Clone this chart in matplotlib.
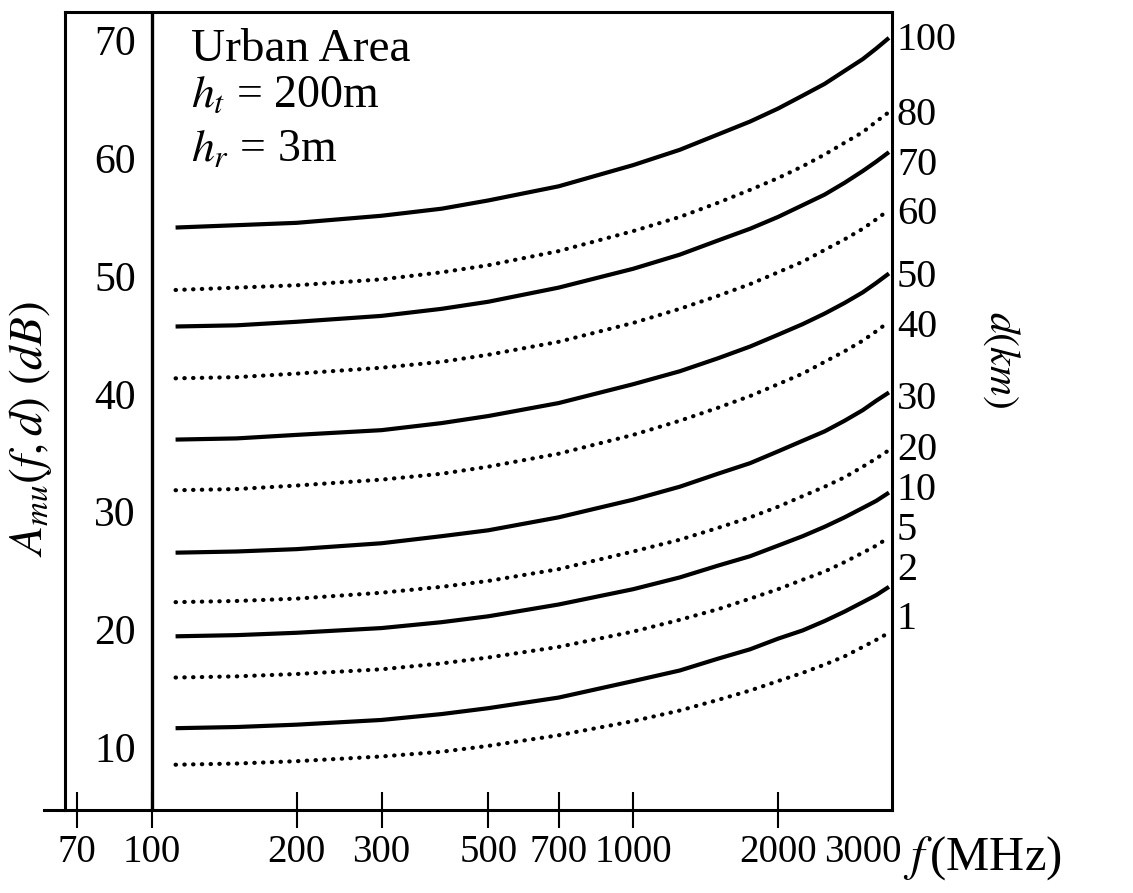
import matplotlib
matplotlib.use("Agg")
import matplotlib.pyplot as plt

plt.rcParams['font.family'] = ['Liberation Serif', 'DejaVu Serif']
plt.rcParams['mathtext.fontset'] = 'stix'

# frequency points (MHz)
freq = [112, 150, 200, 300, 400, 500, 700, 1000, 1250, 1500, 1750, 2000,
        2250, 2500, 2750, 3000, 3200, 3400]

# median attenuation A_mu(f,d) in dB, one list per distance d (km)
dist = [100, 80, 70, 60, 50, 40, 30, 20, 10, 5, 2, 1]
a_100 = [54.5, 54.7, 54.9, 55.5, 56.1, 56.8, 58.0, 59.8, 61.1, 62.4, 63.5, 64.6, 65.7, 66.7, 67.8, 68.8, 69.7, 70.6]
a_80 = [49.2, 49.4, 49.6, 50.1, 50.7, 51.3, 52.5, 54.2, 55.4, 56.6, 57.7, 58.7, 59.7, 60.7, 61.7, 62.6, 63.5, 64.3]
a_70 = [46.1, 46.2, 46.5, 47.0, 47.6, 48.2, 49.4, 51.0, 52.2, 53.4, 54.4, 55.4, 56.4, 57.3, 58.3, 59.3, 60.1, 60.9]
a_60 = [41.7, 41.8, 42.1, 42.6, 43.1, 43.7, 44.8, 46.4, 47.6, 48.7, 49.7, 50.7, 51.6, 52.6, 53.5, 54.4, 55.2, 56.0]
a_50 = [36.5, 36.6, 36.9, 37.3, 37.9, 38.5, 39.6, 41.2, 42.3, 43.4, 44.4, 45.4, 46.3, 47.2, 48.1, 49.0, 49.8, 50.6]
a_40 = [32.2, 32.3, 32.6, 33.1, 33.6, 34.2, 35.3, 36.9, 38.1, 39.2, 40.2, 41.2, 42.1, 43.1, 44.0, 44.9, 45.7, 46.5]
a_30 = [26.9, 27.0, 27.2, 27.7, 28.3, 28.8, 29.9, 31.4, 32.5, 33.6, 34.5, 35.5, 36.4, 37.2, 38.1, 39.0, 39.8, 40.5]
a_20 = [22.7, 22.8, 23.0, 23.5, 24.0, 24.5, 25.5, 27.0, 28.0, 29.0, 29.9, 30.8, 31.7, 32.5, 33.3, 34.2, 34.9, 35.6]
a_10 = [19.8, 19.9, 20.1, 20.5, 21.0, 21.5, 22.5, 23.8, 24.8, 25.8, 26.6, 27.5, 28.3, 29.1, 29.9, 30.7, 31.3, 32.0]
a_5 = [16.3, 16.4, 16.6, 17.0, 17.5, 18.0, 18.9, 20.2, 21.2, 22.1, 23.0, 23.8, 24.6, 25.3, 26.1, 26.9, 27.5, 28.2]
a_2 = [12.0, 12.1, 12.3, 12.7, 13.2, 13.7, 14.6, 16.0, 16.9, 17.9, 18.7, 19.6, 20.3, 21.1, 21.9, 22.7, 23.3, 24.0]
a_1 = [8.9, 9.0, 9.2, 9.6, 10.0, 10.5, 11.4, 12.6, 13.5, 14.4, 15.2, 16.0, 16.7, 17.4, 18.1, 18.9, 19.5, 20.1]
curves = [a_100, a_80, a_70, a_60, a_50, a_40, a_30, a_20, a_10, a_5, a_2, a_1]

x_ticks = [70, 100, 200, 300, 500, 700, 1000, 2000, 3000]
y_ticks = [10, 20, 30, 40, 50, 60, 70]

fig = plt.figure(figsize=(11.33, 8.93), dpi=100)
ax = fig.add_axes([0.0574, 0.093, 0.7299, 0.8936])

# solid and dotted curves alternate, starting with d = 100 km
for i, (d, vals) in enumerate(zip(dist, curves)):
    if i % 2 == 0:
        ax.plot(freq, vals, color='black', lw=3.0, solid_capstyle='butt')
    else:
        ax.plot(freq, vals, color='black', lw=3.0, linestyle=(0, (0.1, 2.0)),
                dash_capstyle='round')

ax.set_xscale('log')
ax.set_xlim(66, 3450)
ax.set_ylim(5.06, 72.8)

# vertical line at 100 MHz
ax.axvline(100, color='black', lw=2.4)

for sp in ax.spines.values():
    sp.set_linewidth(2.2)
# bottom axis runs a bit past the left frame
ax.plot([-0.025, 0], [0, 0], transform=ax.transAxes, color='black',
        lw=2.2, clip_on=False)

ax.set_xticks(x_ticks)
ax.set_xticklabels([str(t) for t in x_ticks])
ax.xaxis.set_minor_locator(matplotlib.ticker.NullLocator())
ax.tick_params(axis='x', direction='inout', length=26, width=1.5,
               labelsize=28, pad=4)
ax.xaxis.get_major_ticks()[-1].tick1line.set_visible(False)
ax.set_yticks([])

# y values written inside the left strip
for v in y_ticks:
    ax.text(0.0605, v, str(v), transform=ax.get_yaxis_transform(),
            ha='center', va='center', fontsize=30)

# distance labels at the right ends of the curves
nudge = {100: -0.2, 80: -0.3, 70: -1.1, 60: -0.4, 50: -0.3, 40: -0.5,
         30: -0.6, 20: 0.0, 10: 0.2, 5: 0.6, 2: 1.4, 1: 1.1}
for d, vals in zip(dist, curves):
    ax.text(1.006, vals[-1] + nudge[d], str(d), transform=ax.get_yaxis_transform(),
            ha='left', va='center', fontsize=29, clip_on=False)

ax.text(0.152, 69.6, 'Urban Area', transform=ax.get_yaxis_transform(),
        ha='left', va='center', fontsize=34)
ax.text(0.152, 65.7, r'$h_t$ = 200m', transform=ax.get_yaxis_transform(),
        ha='left', va='center', fontsize=33)
ax.text(0.152, 61.1, r'$h_r$ = 3m', transform=ax.get_yaxis_transform(),
        ha='left', va='center', fontsize=33)

fig.text(0.027, 0.52, r'$A_{mu}(f,d)\ (dB)$', rotation=90, ha='center',
         va='center', fontsize=34)
fig.text(0.884, 0.597, r'$d(km)$', rotation=270, ha='center', va='center',
         fontsize=30)
fig.text(0.797, 0.039, r'$f\,$(MHz)', ha='left', va='center', fontsize=35)

fig.savefig('out.png', dpi=100)
